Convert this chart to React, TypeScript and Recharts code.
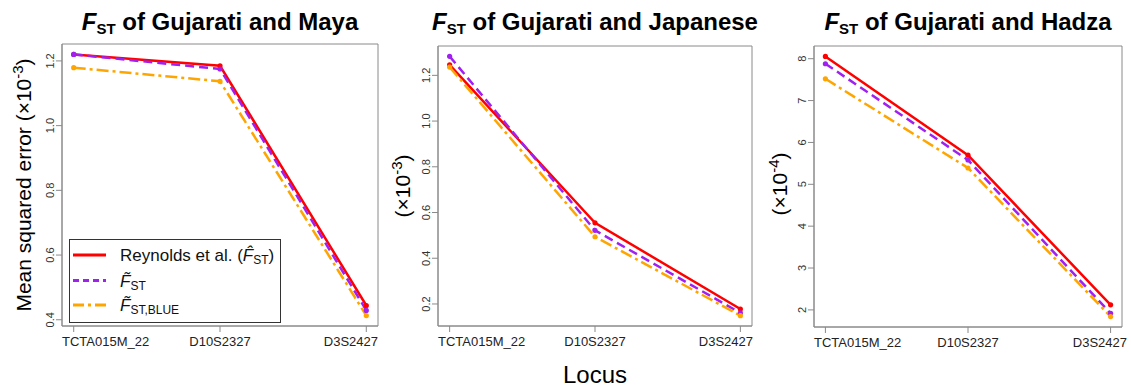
import React from "react";
import { LineChart, Line, XAxis, YAxis, ReferenceArea, Legend } from "recharts";

const loci = ["TCTA015M_22", "D10S2327", "D3S2427"];

// Gujarati vs Maya (x10^-3)
const mayaReynolds = [1.22, 1.185, 0.444];
const mayaFst = [1.22, 1.175, 0.429];
const mayaBlue = [1.179, 1.137, 0.413];
const mayaTicks = [0.4, 0.6, 0.8, 1.0, 1.2];

// Gujarati vs Japanese (x10^-3)
const japReynolds = [1.246, 0.555, 0.178];
const japFst = [1.283, 0.522, 0.161];
const japBlue = [1.236, 0.494, 0.149];
const japTicks = [0.2, 0.4, 0.6, 0.8, 1.0, 1.2];

// Gujarati vs Hadza (x10^-4)
const hadReynolds = [8.055, 5.695, 2.12];
const hadFst = [7.88, 5.58, 1.92];
const hadBlue = [7.52, 5.39, 1.84];
const hadTicks = [2, 3, 4, 5, 6, 7, 8];

const RED = "#ff0000";
const PURPLE = "#a020f0";
const ORANGE = "#ffa500";
const AXIS = "#8a8a8a";
const FONT = "'Liberation Sans', Arial, sans-serif";

type Row = { i: number; reynolds: number; fst: number; blue: number };

function rows(a: number[], b: number[], c: number[]): Row[] {
  return loci.map((_, i) => ({ i, reynolds: a[i], fst: b[i], blue: c[i] }));
}

// R-style 4% padding around the data range
function rDomain(...s: number[][]): [number, number] {
  const all = s.flat();
  const lo = Math.min(...all);
  const hi = Math.max(...all);
  const pad = (hi - lo) * 0.04;
  return [lo - pad, hi + pad];
}

type PanelProps = {
  left: number;
  width: number;
  plotLeft: number;
  plotRight: number;
  plotTop: number;
  plotBottom: number;
  lastLabelEnd: number;
  data: Row[];
  domain: [number, number];
  ticks: number[];
  digits: number;
  children?: React.ReactNode;
};

function LegendBox() {
  const items = [
    { color: RED, dash: undefined, y: 16, label: "reynolds" },
    { color: PURPLE, dash: "6 4", y: 41.5, label: "fst" },
    { color: ORANGE, dash: "11 4 3 4", y: 66, label: "blue" },
  ];
  return (
    <svg width={212} height={84} style={{ display: "block", fontFamily: FONT }}>
      <rect x={0.5} y={0.5} width={211} height={83} fill="#fff" stroke="#333" />
      {items.map((it) => (
        <line key={it.label} x1={4} x2={37} y1={it.y} y2={it.y} stroke={it.color} strokeWidth={3} strokeDasharray={it.dash} />
      ))}
      <text x={51} y={22} fontSize={17} fill="#111">
        Reynolds et al. (<tspan fontStyle="italic">F̂</tspan>
        <tspan fontSize={12} dy={3}>ST</tspan>
        <tspan dy={-3}>)</tspan>
      </text>
      <text x={51} y={47.5} fontSize={17} fill="#111">
        <tspan fontStyle="italic">F̃</tspan>
        <tspan fontSize={12} dy={3}>ST</tspan>
      </text>
      <text x={51} y={72} fontSize={17} fill="#111">
        <tspan fontStyle="italic">F̃</tspan>
        <tspan fontSize={12} dy={3}>ST,BLUE</tspan>
      </text>
    </svg>
  );
}

function Panel(p: PanelProps) {
  const yAxisW = p.plotLeft - p.left;
  const xAxisH = 30;
  const height = 387;

  const XTick = (props: any) => {
    const { x, y, index } = props;
    let anchor: "start" | "middle" | "end" = "middle";
    let tx = x;
    if (index === 0) {
      anchor = "start";
      tx = p.plotLeft - p.left;
    } else if (index === loci.length - 1) {
      anchor = "end";
      tx = p.lastLabelEnd - p.left;
    }
    return (
      <text x={tx} y={y} dy="0.71em" textAnchor={anchor} fontSize={13} fill="#222" fontFamily={FONT}>
        {loci[props.payload.value]}
      </text>
    );
  };

  const YTick = (props: any) => {
    const { x, y, payload } = props;
    return (
      <text x={x} y={y} transform={`rotate(-90, ${x}, ${y})`} textAnchor="middle" fontSize={11} fill="#333" fontFamily={FONT}>
        {Number(payload.value).toFixed(p.digits)}
      </text>
    );
  };

  return (
    <div style={{ position: "absolute", left: p.left, top: 0 }}>
      <LineChart
        width={p.width}
        height={height}
        data={p.data}
        margin={{ top: p.plotTop, right: p.left + p.width - p.plotRight, bottom: height - p.plotBottom - xAxisH, left: 0 }}
      >
        <XAxis
          dataKey="i"
          type="number"
          domain={[-0.08, 2.08]}
          ticks={[0, 1, 2]}
          allowDataOverflow
          height={xAxisH}
          tickSize={6}
          tickMargin={5}
          stroke={AXIS}
          tick={XTick}
        />
        <YAxis
          type="number"
          domain={p.domain}
          ticks={p.ticks}
          allowDataOverflow
          width={yAxisW}
          tickSize={6}
          tickMargin={2}
          stroke={AXIS}
          tick={YTick}
        />
        <ReferenceArea x1={-0.08} x2={2.08} y1={p.domain[0]} y2={p.domain[1]} fill="none" stroke={AXIS} strokeWidth={1} />
        <Line dataKey="reynolds" stroke={RED} strokeWidth={2.5} dot={{ r: 2.6, fill: RED, stroke: "none" }} isAnimationActive={false} />
        <Line dataKey="fst" stroke={PURPLE} strokeWidth={2.5} strokeDasharray="9 5" dot={{ r: 2.6, fill: PURPLE, stroke: "none" }} isAnimationActive={false} />
        <Line dataKey="blue" stroke={ORANGE} strokeWidth={2.5} strokeDasharray="12 4 3 4" dot={{ r: 2.6, fill: ORANGE, stroke: "none" }} isAnimationActive={false} />
        {p.children}
      </LineChart>
    </div>
  );
}

function Title({ cx, name }: { cx: number; name: string }) {
  return (
    <text x={cx} y={30} textAnchor="middle" fontWeight="bold" fontSize={24} fill="#000">
      <tspan fontStyle="italic">F</tspan>
      <tspan fontSize={15} dy={4}>ST</tspan>
      <tspan dy={-4}>{` of Gujarati and ${name}`}</tspan>
    </text>
  );
}

function YLabel({ x, cy, prefix, exp }: { x: number; cy: number; prefix: string; exp: string }) {
  return (
    <text x={x} y={cy} transform={`rotate(-90, ${x}, ${cy})`} textAnchor="middle" fontSize={21} fill="#000">
      {prefix}(×10<tspan fontSize={15} dy={-8}>{exp}</tspan>
      <tspan dy={8}>)</tspan>
    </text>
  );
}

export default function App() {
  const mayaDomain = rDomain(mayaReynolds, mayaFst, mayaBlue);
  const japDomain = rDomain(japReynolds, japFst, japBlue);
  const hadDomain = rDomain(hadReynolds, hadFst, hadBlue);

  return (
    <div style={{ position: "absolute", left: 0, top: 0, width: 1131, height: 387, background: "#fff", fontFamily: FONT }}>
      <Panel
        left={0}
        width={380}
        plotLeft={62}
        plotRight={378}
        plotTop={44}
        plotBottom={326}
        lastLabelEnd={378}
        data={rows(mayaReynolds, mayaFst, mayaBlue)}
        domain={mayaDomain}
        ticks={mayaTicks}
        digits={1}
      >
        <Legend
          layout="vertical"
          align="center"
          verticalAlign="middle"
          content={() => <LegendBox />}
          wrapperStyle={{ left: 69, top: 239, width: 212, height: 84 }}
        />
      </Panel>
      <Panel
        left={380}
        width={380}
        plotLeft={438}
        plotRight={752}
        plotTop={46}
        plotBottom={326}
        lastLabelEnd={753}
        data={rows(japReynolds, japFst, japBlue)}
        domain={japDomain}
        ticks={japTicks}
        digits={1}
      />
      <Panel
        left={760}
        width={371}
        plotLeft={814}
        plotRight={1122}
        plotTop={46}
        plotBottom={327}
        lastLabelEnd={1127}
        data={rows(hadReynolds, hadFst, hadBlue)}
        domain={hadDomain}
        ticks={hadTicks}
        digits={0}
      />
      <svg width={1131} height={387} style={{ position: "absolute", left: 0, top: 0, pointerEvents: "none", fontFamily: FONT }}>
        <Title cx={220} name="Maya" />
        <Title cx={595} name="Japanese" />
        <Title cx={968} name="Hadza" />
        <YLabel x={31} cy={185} prefix="Mean squared error " exp="-3" />
        <YLabel x={410} cy={186} prefix="" exp="-3" />
        <YLabel x={787} cy={184} prefix="" exp="-4" />
        <text x={595} y={383} textAnchor="middle" fontSize={24} fill="#000">
          Locus
        </text>
      </svg>
    </div>
  );
}
